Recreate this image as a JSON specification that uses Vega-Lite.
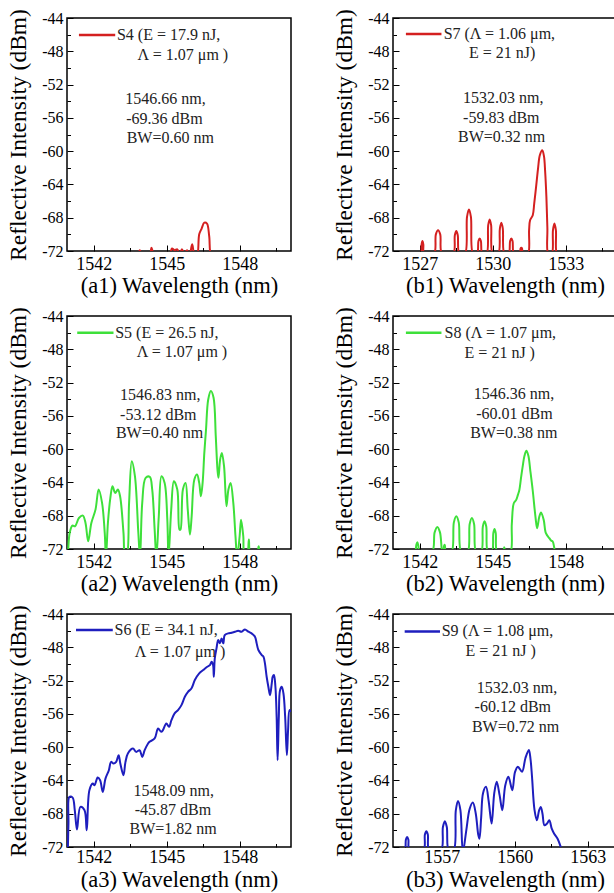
{
"$schema": "https://vega.github.io/schema/vega-lite/v6.json",
"background": "white",
"padding": {"left": 5, "top": 7, "right": 0, "bottom": 0},
"columns": 2,
"spacing": {"row": 65, "column": 102},
"bounds": "flush",
"datasets": {
"a1": [{"x":1543.70,"y":-72.4},{"x":1543.83,"y":-72.4},{"x":1543.89,"y":-71.9},{"x":1543.99,"y":-72.4},{"x":1544.30,"y":-72.4},{"x":1544.37,"y":-71.6},{"x":1544.48,"y":-72.4},{"x":1545.11,"y":-72.4},{"x":1545.21,"y":-71.7},{"x":1545.32,"y":-71.9},{"x":1545.43,"y":-71.8},{"x":1545.52,"y":-72.5},{"x":1545.62,"y":-71.8},{"x":1545.72,"y":-72.3},{"x":1545.83,"y":-71.9},{"x":1545.93,"y":-72.6},{"x":1546.04,"y":-71.2},{"x":1546.13,"y":-72.4},{"x":1546.24,"y":-72.6},{"x":1546.33,"y":-70.0},{"x":1546.43,"y":-69.3},{"x":1546.54,"y":-68.6},{"x":1546.65,"y":-68.7},{"x":1546.74,"y":-70.2},{"x":1546.83,"y":-72.6},{"x":1547.0,"y":-72.6}],
"b1": [{"x":1526.9,"y":-72.4},{"x":1527.04,"y":-72.4},{"x":1527.075,"y":-71.2},{"x":1527.11,"y":-70.8},{"x":1527.145,"y":-71.2},{"x":1527.18,"y":-72.4},{"x":1527.58,"y":-72.4},{"x":1527.66,"y":-70.0},{"x":1527.75,"y":-69.5},{"x":1527.84,"y":-70.0},{"x":1527.92,"y":-72.4},{"x":1528.37,"y":-72.4},{"x":1528.44,"y":-70.1},{"x":1528.50,"y":-69.6},{"x":1528.56,"y":-70.1},{"x":1528.63,"y":-72.4},{"x":1528.85,"y":-72.4},{"x":1528.94,"y":-67.9},{"x":1529.02,"y":-67.0},{"x":1529.10,"y":-67.9},{"x":1529.19,"y":-72.4},{"x":1529.35,"y":-72.4},{"x":1529.41,"y":-70.8},{"x":1529.46,"y":-70.5},{"x":1529.51,"y":-70.8},{"x":1529.57,"y":-72.4},{"x":1529.74,"y":-72.4},{"x":1529.81,"y":-68.9},{"x":1529.87,"y":-68.2},{"x":1529.93,"y":-68.9},{"x":1530.00,"y":-72.4},{"x":1530.22,"y":-72.4},{"x":1530.29,"y":-69.3},{"x":1530.35,"y":-68.6},{"x":1530.41,"y":-69.3},{"x":1530.48,"y":-72.4},{"x":1530.65,"y":-72.4},{"x":1530.71,"y":-70.8},{"x":1530.76,"y":-70.5},{"x":1530.81,"y":-70.8},{"x":1530.87,"y":-72.4},{"x":1531.10,"y":-72.4},{"x":1531.14,"y":-71.7},{"x":1531.17,"y":-71.6},{"x":1531.20,"y":-71.7},{"x":1531.24,"y":-72.4},{"x":1531.44,"y":-72.4},{"x":1531.49,"y":-69.5},{"x":1531.53,"y":-68.3},{"x":1531.64,"y":-67.7},{"x":1531.70,"y":-66.3},{"x":1531.78,"y":-64.2},{"x":1531.86,"y":-62.0},{"x":1531.93,"y":-60.5},{"x":1532.03,"y":-59.9},{"x":1532.10,"y":-60.6},{"x":1532.15,"y":-62.5},{"x":1532.20,"y":-65.5},{"x":1532.24,"y":-69.2},{"x":1532.28,"y":-72.4},{"x":1532.42,"y":-72.4},{"x":1532.47,"y":-69.5},{"x":1532.53,"y":-68.7},{"x":1532.59,"y":-69.5},{"x":1532.64,"y":-72.4},{"x":1532.8,"y":-72.4}],
"a2": [{"x":1540.90,"y":-73},{"x":1540.94,"y":-72.3},{"x":1541.01,"y":-70.07},{"x":1541.12,"y":-69.19},{"x":1541.23,"y":-69.27},{"x":1541.39,"y":-68.27},{"x":1541.55,"y":-67.99},{"x":1541.66,"y":-68.87},{"x":1541.77,"y":-71.08},{"x":1541.90,"y":-68.87},{"x":1542.07,"y":-67.27},{"x":1542.20,"y":-64.86},{"x":1542.34,"y":-66.46},{"x":1542.45,"y":-70.07},{"x":1542.50,"y":-73},{"x":1542.58,"y":-68.87},{"x":1542.68,"y":-65.86},{"x":1542.77,"y":-64.46},{"x":1542.88,"y":-65.26},{"x":1542.99,"y":-64.86},{"x":1543.08,"y":-65.66},{"x":1543.22,"y":-70.07},{"x":1543.29,"y":-73},{"x":1543.35,"y":-73},{"x":1543.45,"y":-66.46},{"x":1543.56,"y":-61.45},{"x":1543.69,"y":-63.25},{"x":1543.83,"y":-70.07},{"x":1543.90,"y":-73},{"x":1543.99,"y":-66.46},{"x":1544.13,"y":-63.45},{"x":1544.30,"y":-63.33},{"x":1544.40,"y":-64.86},{"x":1544.50,"y":-69.67},{"x":1544.57,"y":-73},{"x":1544.67,"y":-68.07},{"x":1544.78,"y":-63.25},{"x":1544.91,"y":-64.06},{"x":1545.02,"y":-68.47},{"x":1545.07,"y":-73},{"x":1545.18,"y":-67.27},{"x":1545.29,"y":-63.86},{"x":1545.43,"y":-64.86},{"x":1545.52,"y":-69.67},{"x":1545.56,"y":-69.67},{"x":1545.66,"y":-64.86},{"x":1545.77,"y":-64.06},{"x":1545.86,"y":-67.27},{"x":1545.95,"y":-70.27},{"x":1546.02,"y":-68.07},{"x":1546.13,"y":-63.65},{"x":1546.24,"y":-63.05},{"x":1546.33,"y":-64.06},{"x":1546.40,"y":-65.66},{"x":1546.47,"y":-64.06},{"x":1546.54,"y":-60.45},{"x":1546.61,"y":-57.64},{"x":1546.70,"y":-54.03},{"x":1546.81,"y":-53.02},{"x":1546.92,"y":-53.83},{"x":1547.01,"y":-58.44},{"x":1547.08,"y":-62.45},{"x":1547.12,"y":-63.45},{"x":1547.19,"y":-61.25},{"x":1547.26,"y":-60.45},{"x":1547.35,"y":-62.05},{"x":1547.45,"y":-66.86},{"x":1547.53,"y":-64.86},{"x":1547.62,"y":-64.06},{"x":1547.73,"y":-66.46},{"x":1547.82,"y":-70.47},{"x":1547.89,"y":-73},{"x":1547.99,"y":-70.47},{"x":1548.05,"y":-68.47},{"x":1548.14,"y":-70.47},{"x":1548.19,"y":-72.6},{"x":1548.30,"y":-72.6},{"x":1548.37,"y":-70.87},{"x":1548.44,"y":-72.6},{"x":1548.70,"y":-72.6},{"x":1548.77,"y":-71.68},{"x":1548.84,"y":-72.6},{"x":1549.0,"y":-72.6}],
"b2": [{"x":1541.70,"y":-72.4},{"x":1541.80,"y":-72.4},{"x":1541.86,"y":-71.5},{"x":1541.90,"y":-71.2},{"x":1541.94,"y":-71.6},{"x":1542.00,"y":-72.4},{"x":1542.50,"y":-72.4},{"x":1542.61,"y":-70.0},{"x":1542.72,"y":-69.35},{"x":1542.83,"y":-70.0},{"x":1542.93,"y":-72.4},{"x":1542.96,"y":-72.4},{"x":1543.00,"y":-71.6},{"x":1543.03,"y":-71.5},{"x":1543.07,"y":-72.4},{"x":1543.30,"y":-72.4},{"x":1543.40,"y":-68.8},{"x":1543.50,"y":-68.07},{"x":1543.60,"y":-68.8},{"x":1543.71,"y":-72.4},{"x":1543.96,"y":-72.4},{"x":1544.05,"y":-69.0},{"x":1544.14,"y":-68.27},{"x":1544.23,"y":-69.0},{"x":1544.32,"y":-72.4},{"x":1544.52,"y":-72.4},{"x":1544.59,"y":-69.3},{"x":1544.66,"y":-68.67},{"x":1544.73,"y":-69.3},{"x":1544.80,"y":-72.4},{"x":1544.96,"y":-72.4},{"x":1545.02,"y":-70.1},{"x":1545.07,"y":-69.6},{"x":1545.12,"y":-70.1},{"x":1545.18,"y":-72.4},{"x":1545.41,"y":-72.4},{"x":1545.47,"y":-71.8},{"x":1545.52,"y":-72.4},{"x":1545.72,"y":-72.4},{"x":1545.78,"y":-69.0},{"x":1545.86,"y":-66.5},{"x":1545.96,"y":-66.1},{"x":1546.03,"y":-65.5},{"x":1546.09,"y":-64.9},{"x":1546.16,"y":-63.4},{"x":1546.23,"y":-62.0},{"x":1546.30,"y":-60.8},{"x":1546.38,"y":-60.2},{"x":1546.46,"y":-60.8},{"x":1546.54,"y":-62.6},{"x":1546.64,"y":-65.0},{"x":1546.75,"y":-68.1},{"x":1546.82,"y":-69.5},{"x":1546.91,"y":-68.1},{"x":1546.98,"y":-67.6},{"x":1547.09,"y":-68.5},{"x":1547.18,"y":-70.1},{"x":1547.32,"y":-70.7},{"x":1547.40,"y":-71.0},{"x":1547.46,"y":-71.1},{"x":1547.52,"y":-71.8},{"x":1547.56,"y":-72.4},{"x":1547.7,"y":-72.4}],
"a3": [{"x":1540.93,"y":-73},{"x":1540.96,"y":-69.19},{"x":1541.00,"y":-65.98},{"x":1541.13,"y":-66.06},{"x":1541.22,"y":-67.59},{"x":1541.31,"y":-69.91},{"x":1541.45,"y":-67.18},{"x":1541.62,"y":-67.59},{"x":1541.71,"y":-69.99},{"x":1541.82,"y":-65.18},{"x":1541.96,"y":-64.38},{"x":1542.03,"y":-64.58},{"x":1542.16,"y":-63.65},{"x":1542.26,"y":-63.98},{"x":1542.37,"y":-65.38},{"x":1542.48,"y":-63.78},{"x":1542.62,"y":-62.77},{"x":1542.71,"y":-61.77},{"x":1542.81,"y":-61.97},{"x":1542.92,"y":-61.77},{"x":1543.02,"y":-60.97},{"x":1543.09,"y":-61.97},{"x":1543.22,"y":-63.37},{"x":1543.30,"y":-61.8},{"x":1543.40,"y":-60.77},{"x":1543.61,"y":-60.17},{"x":1543.74,"y":-60.57},{"x":1543.88,"y":-60.37},{"x":1543.99,"y":-61.17},{"x":1544.09,"y":-60.37},{"x":1544.23,"y":-59.56},{"x":1544.29,"y":-59.36},{"x":1544.50,"y":-58.96},{"x":1544.64,"y":-57.76},{"x":1544.77,"y":-58.16},{"x":1544.84,"y":-57.96},{"x":1544.98,"y":-57.16},{"x":1545.09,"y":-57.56},{"x":1545.19,"y":-56.76},{"x":1545.32,"y":-55.95},{"x":1545.46,"y":-55.55},{"x":1545.60,"y":-54.95},{"x":1545.74,"y":-53.95},{"x":1545.87,"y":-53.35},{"x":1546.01,"y":-52.95},{"x":1546.15,"y":-51.94},{"x":1546.33,"y":-51.14},{"x":1546.49,"y":-50.74},{"x":1546.66,"y":-50.34},{"x":1546.77,"y":-50.14},{"x":1546.84,"y":-49.74},{"x":1546.90,"y":-50.14},{"x":1546.93,"y":-51.54},{"x":1546.97,"y":-49.33},{"x":1547.04,"y":-48.13},{"x":1547.11,"y":-47.13},{"x":1547.18,"y":-47.53},{"x":1547.25,"y":-46.93},{"x":1547.32,"y":-47.53},{"x":1547.38,"y":-46.53},{"x":1547.52,"y":-46.33},{"x":1547.66,"y":-46.25},{"x":1547.80,"y":-46.13},{"x":1547.93,"y":-46.01},{"x":1548.07,"y":-46.13},{"x":1548.21,"y":-45.85},{"x":1548.35,"y":-46.13},{"x":1548.48,"y":-46.33},{"x":1548.62,"y":-46.73},{"x":1548.69,"y":-47.53},{"x":1548.76,"y":-48.33},{"x":1548.90,"y":-48.93},{"x":1548.97,"y":-49.13},{"x":1549.03,"y":-49.94},{"x":1549.10,"y":-51.54},{"x":1549.17,"y":-52.74},{"x":1549.24,"y":-53.75},{"x":1549.31,"y":-52.34},{"x":1549.35,"y":-51.54},{"x":1549.40,"y":-51.34},{"x":1549.46,"y":-52.74},{"x":1549.51,"y":-56.35},{"x":1549.55,"y":-61.57},{"x":1549.60,"y":-56.35},{"x":1549.65,"y":-53.15},{"x":1549.72,"y":-52.74},{"x":1549.79,"y":-53.55},{"x":1549.86,"y":-56.35},{"x":1549.93,"y":-60.97},{"x":1549.98,"y":-57.96},{"x":1550.04,"y":-55.55},{"x":1550.10,"y":-55.75}],
"b3": [{"x":1555.3,"y":-72.4},{"x":1555.48,"y":-72.4},{"x":1555.53,"y":-71.1},{"x":1555.58,"y":-70.8},{"x":1555.63,"y":-71.1},{"x":1555.68,"y":-72.4},{"x":1556.25,"y":-72.4},{"x":1556.31,"y":-70.5},{"x":1556.37,"y":-70.1},{"x":1556.43,"y":-70.5},{"x":1556.49,"y":-72.4},{"x":1556.97,"y":-72.4},{"x":1557.05,"y":-69.6},{"x":1557.13,"y":-68.9},{"x":1557.21,"y":-69.6},{"x":1557.29,"y":-72.4},{"x":1557.49,"y":-72.4},{"x":1557.58,"y":-67.6},{"x":1557.67,"y":-66.46},{"x":1557.77,"y":-67.6},{"x":1557.87,"y":-72.6},{"x":1558.01,"y":-70.0},{"x":1558.15,"y":-67.4},{"x":1558.28,"y":-66.66},{"x":1558.40,"y":-68.0},{"x":1558.50,"y":-70.5},{"x":1558.55,"y":-71.0},{"x":1558.62,"y":-68.5},{"x":1558.70,"y":-65.5},{"x":1558.82,"y":-64.77},{"x":1558.93,"y":-66.5},{"x":1559.05,"y":-69.19},{"x":1559.16,"y":-65.5},{"x":1559.26,"y":-64.17},{"x":1559.38,"y":-65.8},{"x":1559.49,"y":-67.58},{"x":1559.61,"y":-64.6},{"x":1559.74,"y":-63.57},{"x":1559.90,"y":-65.17},{"x":1560.01,"y":-63.0},{"x":1560.13,"y":-62.36},{"x":1560.30,"y":-62.96},{"x":1560.44,"y":-61.3},{"x":1560.58,"y":-60.35},{"x":1560.65,"y":-61.5},{"x":1560.71,"y":-63.57},{"x":1560.81,"y":-67.5},{"x":1560.91,"y":-68.79},{"x":1561.00,"y":-67.6},{"x":1561.07,"y":-67.18},{"x":1561.14,"y":-68.0},{"x":1561.22,"y":-69.39},{"x":1561.32,"y":-69.2},{"x":1561.42,"y":-68.79},{"x":1561.52,"y":-69.8},{"x":1561.62,"y":-70.4},{"x":1561.76,"y":-71.0},{"x":1561.89,"y":-72},{"x":1561.95,"y":-72.5},{"x":1562.1,"y":-72.5}]
},
"concat": [
{"width":224,"height":233,"resolve":{"axis":{"x":"independent","y":"independent"}},"layer":[
 {"data":{"name":"a1"},"mark":{"type":"line","clip":true,"interpolate":"catmull-rom","strokeWidth":2,"color":"#d42020"},
  "encoding":{"x":{"field":"x","type":"quantitative","scale":{"domain":[1540.9,1550.1],"nice":false,"zero":false},"axis":{"orient":"bottom","title":"(a1) Wavelength (nm)","values":[1542,1545,1548],"labelExpr":"'' + datum.value"}},
   "y":{"field":"y","type":"quantitative","scale":{"domain":[-72,-44],"nice":false,"zero":false},"axis":{"orient":"left","title":"Reflective Intensity (dBm)","values":[-72,-68,-64,-60,-56,-52,-48,-44],"labelExpr":"'' + datum.value"}}}},
 {"data":{"values":[{"x":1541.39,"x2":1542.88,"y":-46.05}]},"mark":{"type":"rule","strokeWidth":2.5,"color":"#d42020"},"encoding":{"x":{"field":"x","type":"quantitative","axis":{"orient":"bottom","title":null,"labels":false,"tickSize":-3.5,"values":[1543.5,1546.5,1549.5]}},"x2":{"field":"x2"},"y":{"field":"y","type":"quantitative","axis":{"orient":"left","title":null,"labels":false,"tickSize":-3.5,"values":[-70,-66,-62,-58,-54,-50,-46]}}}},
 {"data":{"values":[{"x":1542.95,"y":-46.05,"t":"S4 (E = 17.9 nJ,"},{"x":1543.80,"y":-48.41,"t":"Λ = 1.07 μm )"}]},"mark":{"type":"text","align":"left","baseline":"middle","fontSize":16},"encoding":{"x":{"field":"x","type":"quantitative","axis":null},"y":{"field":"y","type":"quantitative","axis":null},"text":{"field":"t"}}},
 {"data":{"values":[{"x":1543.29,"y":-53.75,"t":"1546.66 nm,"},{"x":1543.33,"y":-56.15,"t":"-69.36 dBm"},{"x":1543.35,"y":-58.44,"t":"BW=0.60 nm"}]},"mark":{"type":"text","align":"left","baseline":"middle"},"encoding":{"x":{"field":"x","type":"quantitative","axis":null},"y":{"field":"y","type":"quantitative","axis":null},"text":{"field":"t"}}}
]},
{"width":224,"height":233,"resolve":{"axis":{"x":"independent","y":"independent"}},"layer":[
 {"data":{"name":"b1"},"mark":{"type":"line","clip":true,"interpolate":"catmull-rom","strokeWidth":2,"color":"#d42020"},
  "encoding":{"x":{"field":"x","type":"quantitative","scale":{"domain":[1525.9,1535.1],"nice":false,"zero":false},"axis":{"orient":"bottom","title":"(b1) Wavelength (nm)","values":[1527,1530,1533],"labelExpr":"'' + datum.value"}},
   "y":{"field":"y","type":"quantitative","scale":{"domain":[-72,-44],"nice":false,"zero":false},"axis":{"orient":"left","title":"Reflective Intensity (dBm)","values":[-72,-68,-64,-60,-56,-52,-48,-44],"labelExpr":"'' + datum.value"}}}},
 {"data":{"values":[{"x":1526.43,"x2":1527.89,"y":-45.93}]},"mark":{"type":"rule","strokeWidth":2.5,"color":"#d42020"},"encoding":{"x":{"field":"x","type":"quantitative","axis":{"orient":"bottom","title":null,"labels":false,"tickSize":-3.5,"values":[1528.5,1531.5,1534.5]}},"x2":{"field":"x2"},"y":{"field":"y","type":"quantitative","axis":{"orient":"left","title":null,"labels":false,"tickSize":-3.5,"values":[-70,-66,-62,-58,-54,-50,-46]}}}},
 {"data":{"values":[{"x":1527.98,"y":-45.93,"t":"S7 (Λ = 1.06 μm,"},{"x":1529.02,"y":-48.23,"t":"E = 21 nJ)"}]},"mark":{"type":"text","align":"left","baseline":"middle","fontSize":16},"encoding":{"x":{"field":"x","type":"quantitative","axis":null},"y":{"field":"y","type":"quantitative","axis":null},"text":{"field":"t"}}},
 {"data":{"values":[{"x":1528.78,"y":-53.59,"t":"1532.03 nm,"},{"x":1528.78,"y":-55.97,"t":"-59.83 dBm"},{"x":1528.57,"y":-58.30,"t":"BW=0.32 nm"}]},"mark":{"type":"text","align":"left","baseline":"middle"},"encoding":{"x":{"field":"x","type":"quantitative","axis":null},"y":{"field":"y","type":"quantitative","axis":null},"text":{"field":"t"}}}
]},
{"width":224,"height":233,"resolve":{"axis":{"x":"independent","y":"independent"}},"layer":[
 {"data":{"name":"a2"},"mark":{"type":"line","clip":true,"interpolate":"catmull-rom","strokeWidth":2,"color":"#3ee03a"},
  "encoding":{"x":{"field":"x","type":"quantitative","scale":{"domain":[1540.9,1550.1],"nice":false,"zero":false},"axis":{"orient":"bottom","title":"(a2) Wavelength (nm)","values":[1542,1545,1548],"labelExpr":"'' + datum.value"}},
   "y":{"field":"y","type":"quantitative","scale":{"domain":[-72,-44],"nice":false,"zero":false},"axis":{"orient":"left","title":"Reflective Intensity (dBm)","values":[-72,-68,-64,-60,-56,-52,-48,-44],"labelExpr":"'' + datum.value"}}}},
 {"data":{"values":[{"x":1541.32,"x2":1542.81,"y":-46.01}]},"mark":{"type":"rule","strokeWidth":2.5,"color":"#3ee03a"},"encoding":{"x":{"field":"x","type":"quantitative","axis":{"orient":"bottom","title":null,"labels":false,"tickSize":-3.5,"values":[1543.5,1546.5,1549.5]}},"x2":{"field":"x2"},"y":{"field":"y","type":"quantitative","axis":{"orient":"left","title":null,"labels":false,"tickSize":-3.5,"values":[-70,-66,-62,-58,-54,-50,-46]}}}},
 {"data":{"values":[{"x":1542.88,"y":-46.01,"t":"S5 (E = 26.5 nJ,"},{"x":1543.76,"y":-48.33,"t":"Λ = 1.07 μm )"}]},"mark":{"type":"text","align":"left","baseline":"middle","fontSize":16},"encoding":{"x":{"field":"x","type":"quantitative","axis":null},"y":{"field":"y","type":"quantitative","axis":null},"text":{"field":"t"}}},
 {"data":{"values":[{"x":1543.08,"y":-53.51,"t":"1546.83 nm,"},{"x":1543.08,"y":-55.91,"t":"-53.12 dBm"},{"x":1542.91,"y":-58.12,"t":"BW=0.40 nm"}]},"mark":{"type":"text","align":"left","baseline":"middle"},"encoding":{"x":{"field":"x","type":"quantitative","axis":null},"y":{"field":"y","type":"quantitative","axis":null},"text":{"field":"t"}}}
]},
{"width":224,"height":233,"resolve":{"axis":{"x":"independent","y":"independent"}},"layer":[
 {"data":{"name":"b2"},"mark":{"type":"line","clip":true,"interpolate":"catmull-rom","strokeWidth":2,"color":"#3ee03a"},
  "encoding":{"x":{"field":"x","type":"quantitative","scale":{"domain":[1540.9,1550.1],"nice":false,"zero":false},"axis":{"orient":"bottom","title":"(b2) Wavelength (nm)","values":[1542,1545,1548],"labelExpr":"'' + datum.value"}},
   "y":{"field":"y","type":"quantitative","scale":{"domain":[-72,-44],"nice":false,"zero":false},"axis":{"orient":"left","title":"Reflective Intensity (dBm)","values":[-72,-68,-64,-60,-56,-52,-48,-44],"labelExpr":"'' + datum.value"}}}},
 {"data":{"values":[{"x":1541.43,"x2":1542.89,"y":-46.01}]},"mark":{"type":"rule","strokeWidth":2.5,"color":"#3ee03a"},"encoding":{"x":{"field":"x","type":"quantitative","axis":{"orient":"bottom","title":null,"labels":false,"tickSize":-3.5,"values":[1543.5,1546.5,1549.5]}},"x2":{"field":"x2"},"y":{"field":"y","type":"quantitative","axis":{"orient":"left","title":null,"labels":false,"tickSize":-3.5,"values":[-70,-66,-62,-58,-54,-50,-46]}}}},
 {"data":{"values":[{"x":1543.02,"y":-46.01,"t":"S8 (Λ = 1.07 μm,"},{"x":1543.84,"y":-48.41,"t":"E = 21 nJ )"}]},"mark":{"type":"text","align":"left","baseline":"middle","fontSize":16},"encoding":{"x":{"field":"x","type":"quantitative","axis":null},"y":{"field":"y","type":"quantitative","axis":null},"text":{"field":"t"}}},
 {"data":{"values":[{"x":1544.22,"y":-53.43,"t":"1546.36 nm,"},{"x":1544.32,"y":-55.75,"t":"-60.01 dBm"},{"x":1544.07,"y":-58.12,"t":"BW=0.38 nm"}]},"mark":{"type":"text","align":"left","baseline":"middle"},"encoding":{"x":{"field":"x","type":"quantitative","axis":null},"y":{"field":"y","type":"quantitative","axis":null},"text":{"field":"t"}}}
]},
{"width":224,"height":233,"resolve":{"axis":{"x":"independent","y":"independent"}},"layer":[
 {"data":{"name":"a3"},"mark":{"type":"line","clip":true,"interpolate":"catmull-rom","strokeWidth":2,"color":"#1e1ebe"},
  "encoding":{"x":{"field":"x","type":"quantitative","scale":{"domain":[1540.9,1550.1],"nice":false,"zero":false},"axis":{"orient":"bottom","title":"(a3) Wavelength (nm)","values":[1542,1545,1548],"labelExpr":"'' + datum.value","labelPadding":7,"titlePadding":2}},
   "y":{"field":"y","type":"quantitative","scale":{"domain":[-72,-44],"nice":false,"zero":false},"axis":{"orient":"left","title":"Reflective Intensity (dBm)","values":[-72,-68,-64,-60,-56,-52,-48,-44],"labelExpr":"'' + datum.value"}}}},
 {"data":{"values":[{"x":1541.27,"x2":1542.78,"y":-45.93}]},"mark":{"type":"rule","strokeWidth":2.5,"color":"#1e1ebe"},"encoding":{"x":{"field":"x","type":"quantitative","axis":{"orient":"bottom","title":null,"labels":false,"tickSize":-3.5,"values":[1543.5,1546.5,1549.5]}},"x2":{"field":"x2"},"y":{"field":"y","type":"quantitative","axis":{"orient":"left","title":null,"labels":false,"tickSize":-3.5,"values":[-70,-66,-62,-58,-54,-50,-46]}}}},
 {"data":{"values":[{"x":1542.85,"y":-45.93,"t":"S6 (E = 34.1 nJ,"},{"x":1543.68,"y":-48.53,"t":"Λ = 1.07 μm )"}]},"mark":{"type":"text","align":"left","baseline":"middle","fontSize":16},"encoding":{"x":{"field":"x","type":"quantitative","axis":null},"y":{"field":"y","type":"quantitative","axis":null},"text":{"field":"t"}}},
 {"data":{"values":[{"x":1543.63,"y":-65.26,"t":"1548.09 nm,"},{"x":1543.68,"y":-67.59,"t":"-45.87 dBm"},{"x":1543.47,"y":-69.87,"t":"BW=1.82 nm"}]},"mark":{"type":"text","align":"left","baseline":"middle"},"encoding":{"x":{"field":"x","type":"quantitative","axis":null},"y":{"field":"y","type":"quantitative","axis":null},"text":{"field":"t"}}}
]},
{"width":224,"height":233,"resolve":{"axis":{"x":"independent","y":"independent"}},"layer":[
 {"data":{"name":"b3"},"mark":{"type":"line","clip":true,"interpolate":"catmull-rom","strokeWidth":2,"color":"#1e1ebe"},
  "encoding":{"x":{"field":"x","type":"quantitative","scale":{"domain":[1555.0,1564.2],"nice":false,"zero":false},"axis":{"orient":"bottom","title":"(b3) Wavelength (nm)","values":[1557,1560,1563],"labelExpr":"'' + datum.value","labelPadding":7,"titlePadding":2}},
   "y":{"field":"y","type":"quantitative","scale":{"domain":[-72,-44],"nice":false,"zero":false},"axis":{"orient":"left","title":"Reflective Intensity (dBm)","values":[-72,-68,-64,-60,-56,-52,-48,-44],"labelExpr":"'' + datum.value"}}}},
 {"data":{"values":[{"x":1555.48,"x2":1556.93,"y":-46.09}]},"mark":{"type":"rule","strokeWidth":2.5,"color":"#1e1ebe"},"encoding":{"x":{"field":"x","type":"quantitative","axis":{"orient":"bottom","title":null,"labels":false,"tickSize":-3.5,"values":[1555.5,1558.5,1561.5]}},"x2":{"field":"x2"},"y":{"field":"y","type":"quantitative","axis":{"orient":"left","title":null,"labels":false,"tickSize":-3.5,"values":[-70,-66,-62,-58,-54,-50,-46]}}}},
 {"data":{"values":[{"x":1557.0,"y":-46.09,"t":"S9 (Λ = 1.08 μm,"},{"x":1557.98,"y":-48.50,"t":"E = 21 nJ )"}]},"mark":{"type":"text","align":"left","baseline":"middle","fontSize":16},"encoding":{"x":{"field":"x","type":"quantitative","axis":null},"y":{"field":"y","type":"quantitative","axis":null},"text":{"field":"t"}}},
 {"data":{"values":[{"x":1558.44,"y":-52.84,"t":"1532.03 nm,"},{"x":1558.35,"y":-55.21,"t":"-60.12 dBm"},{"x":1558.24,"y":-57.54,"t":"BW=0.72 nm"}]},"mark":{"type":"text","align":"left","baseline":"middle"},"encoding":{"x":{"field":"x","type":"quantitative","axis":null},"y":{"field":"y","type":"quantitative","axis":null},"text":{"field":"t"}}}
]}
],
"config": {
 "view": {"stroke": "#000", "strokeWidth": 1.5},
 "font": "Liberation Serif",
 "axis": {"grid": false, "domain": false, "tickColor": "#000", "tickSize": -6, "tickWidth": 1, "labelColor": "#000", "titleColor": "#000", "labelFont": "Liberation Serif", "titleFont": "Liberation Serif", "titleFontWeight": "normal", "labelFlush": false, "labelOverlap": false},
 "axisX": {"labelFontSize": 18, "titleFontSize": 22.5, "labelPadding": 10, "titlePadding": 1},
 "axisY": {"labelFontSize": 16, "titleFontSize": 23.5, "labelPadding": 10, "titlePadding": 11},
 "text": {"font": "Liberation Serif", "fontSize": 16, "color": "#222"}
}
}
